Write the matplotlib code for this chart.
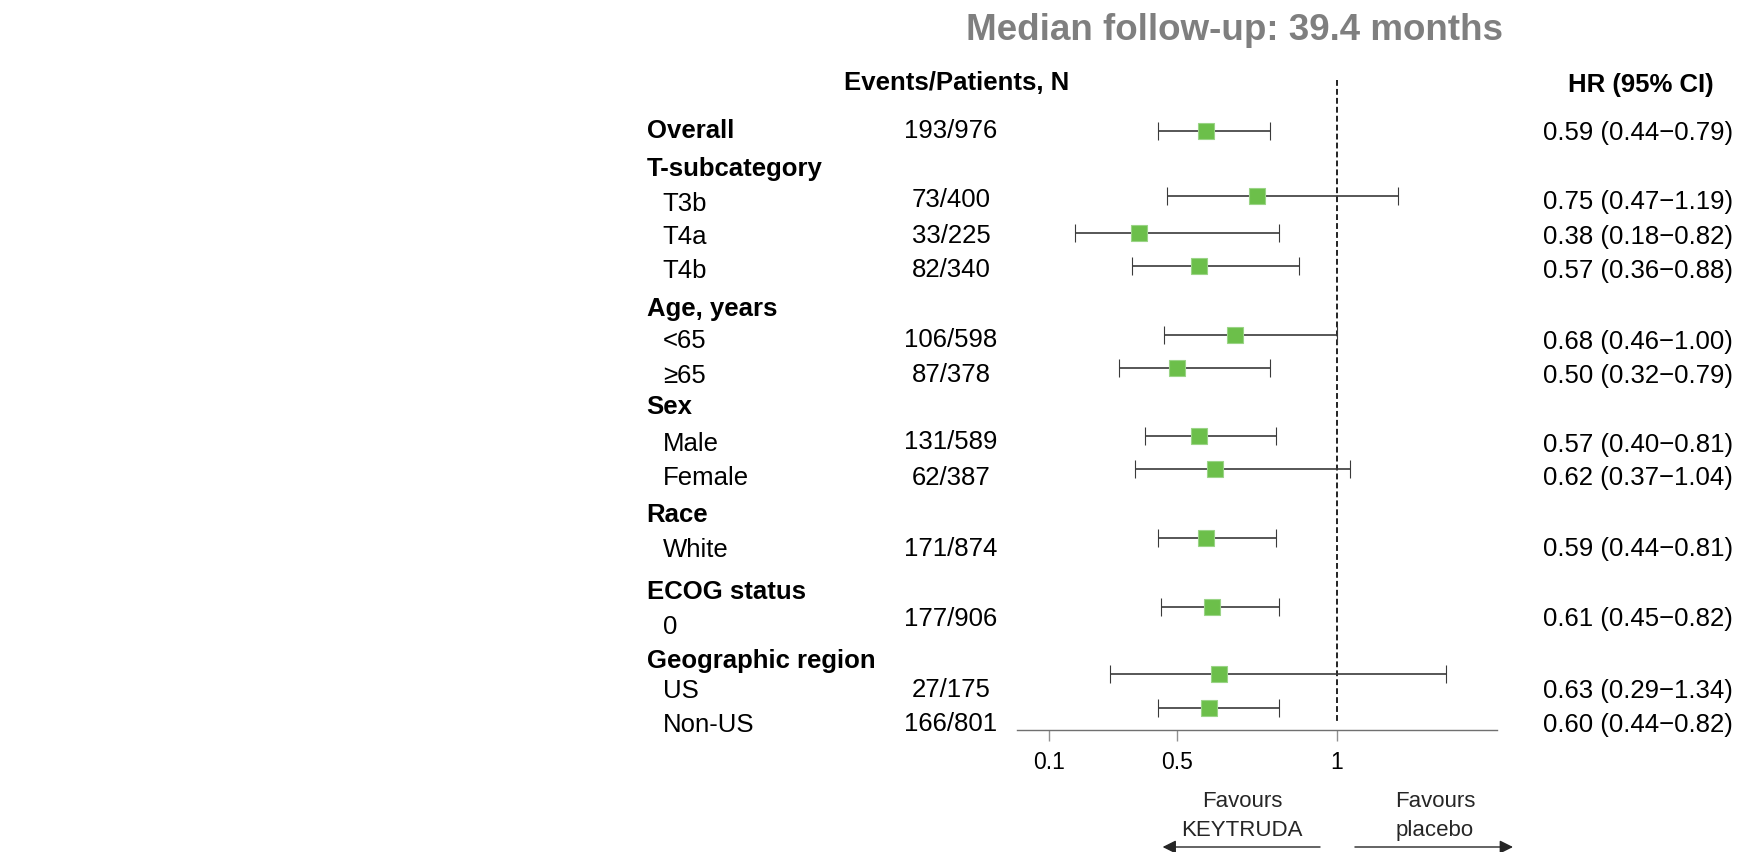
import matplotlib
matplotlib.use("Agg")
import numpy as np
from matplotlib import pyplot as plt
from matplotlib.transforms import blended_transform_factory

plt.rcParams['font.family'] = ['Liberation Sans', 'DejaVu Sans']

# DATA
labels = ["Overall", "T-subcategory", "T3b", "T4a", "T4b", "Age, years", "<65", "\u226565",
          "Sex", "Male", "Female", "Race", "White", "ECOG status", "0",
          "Geographic region", "US", "Non-US"]
is_header = [True, True, False, False, False, True, False, False,
             True, False, False, True, False, True, False,
             True, False, False]
events = ["193/976", "73/400", "33/225", "82/340", "106/598", "87/378",
          "131/589", "62/387", "171/874", "177/906", "27/175", "166/801"]
hr = np.array([0.59, 0.75, 0.38, 0.57, 0.68, 0.50, 0.57, 0.62, 0.59, 0.61, 0.63, 0.60])
ci_low = np.array([0.44, 0.47, 0.18, 0.36, 0.46, 0.32, 0.40, 0.37, 0.44, 0.45, 0.29, 0.44])
ci_high = np.array([0.79, 1.19, 0.82, 0.88, 1.00, 0.79, 0.81, 1.04, 0.81, 0.82, 1.34, 0.82])
x_ticks = [0.1, 0.5, 1]
x_ticklabels = ["0.1", "0.5", "1"]

# LAYOUT (pixels from the top of the figure)
label_y = [129, 167, 201.7, 235, 269, 306.7, 338.3, 373.3, 405, 441.7, 476,
           512.7, 547.3, 590, 625, 658.3, 688.3, 722.7]
events_y = [129, 198, 233.3, 268, 337.3, 373, 440, 476, 547, 616.7, 687.7, 721.7]
hr_text_y = [130.7, 199.3, 234.3, 268.3, 340, 373.3, 442.7, 476, 546.7, 616.7, 689, 723]
marker_y = [130.7, 195.7, 232.7, 265.7, 334.5, 367.7, 436, 469, 537.7, 606.7, 674.3, 707.7]

W, H = 1744, 852
axis_y = 730.3
fig = plt.figure(figsize=(W / 100, H / 100), dpi=100)
ax = fig.add_axes([1017 / W, (H - axis_y) / H, 480 / W, axis_y / H])
ax.set_xlim(0, 1.5)
ax.set_ylim(axis_y, 0)

# axis styling
for side in ["top", "right", "left"]:
    ax.spines[side].set_visible(False)
ax.spines["bottom"].set_color("#707070")
ax.spines["bottom"].set_linewidth(1.0)
ax.set_yticks([])
ax.set_xticks(x_ticks, x_ticklabels)
ax.tick_params(axis="x", length=8, width=1.0, color="#909090", pad=7, labelsize=16.5)

# reference line at HR = 1
ax.vlines(1, 80, 724, colors="#222222", linewidth=1.4, linestyles=(0, (3, 1.6)))

# hazard ratios with CIs
cont = ax.errorbar(hr, marker_y, xerr=[hr - ci_low, ci_high - hr], fmt="s", ms=11.5,
                   mfc="#6cbf4a", mec="#9ad486", mew=0.8, ecolor="#3a3a3a",
                   elinewidth=1.2, capsize=6.5, capthick=1.4, zorder=3, clip_on=False)
for cap in cont[1]:
    cap.set_color("#1e1e1e")


def put(xfrac, y, s, size, **kw):
    # y is the visual centre of the caps, shift to baseline
    off = 0.36 * size * 100 / 72
    trans = blended_transform_factory(fig.transFigure, ax.transData)
    ax.text(xfrac, y + off, s, transform=trans, fontsize=size, va="baseline",
            clip_on=False, **kw)


fs = 18.5
# title and headers
put(1234 / W, 26.5, "Median follow-up: 39.4 months", 26.5, ha="center",
    fontweight="bold", color="#7f7f7f")
put(957 / W, 81, "Events/Patients, N", fs, ha="center", fontweight="bold")
put(1641 / W, 83, "HR (95% CI)", fs, ha="center", fontweight="bold")

# left labels
for lab, hdr, y in zip(labels, is_header, label_y):
    if hdr:
        put(646.7 / W, y, lab, fs, ha="left", fontweight="bold")
    else:
        put(662.7 / W, y, lab, fs, ha="left")

# events column
for ev, y in zip(events, events_y):
    put(951 / W, y, ev, fs, ha="center")

# HR text column
for h, lo, hi, y in zip(hr, ci_low, ci_high, hr_text_y):
    put(1543 / W, y, f"{h:.2f} ({lo:.2f}\u2212{hi:.2f})", fs, ha="left")

# favours annotations
put(1242 / W, 799, "Favours", 16, ha="center", color="#262626")
put(1242 / W, 828, "KEYTRUDA", 16, ha="center", color="#262626")
put(1435 / W, 799, "Favours", 16, ha="center", color="#262626")
put(1435 / W, 828, "placebo", 16, ha="center", color="#262626")
arrow = dict(arrowstyle="-|>", color="#262626", lw=1.0, mutation_scale=20,
             shrinkA=0, shrinkB=0)
ax.annotate("", xy=(0.455, 847), xytext=(0.947, 847), arrowprops=arrow,
            annotation_clip=False)
ax.annotate("", xy=(1.55, 847), xytext=(1.056, 847), arrowprops=arrow,
            annotation_clip=False)

fig.savefig("out.png", dpi=100)
plt.close(fig)
